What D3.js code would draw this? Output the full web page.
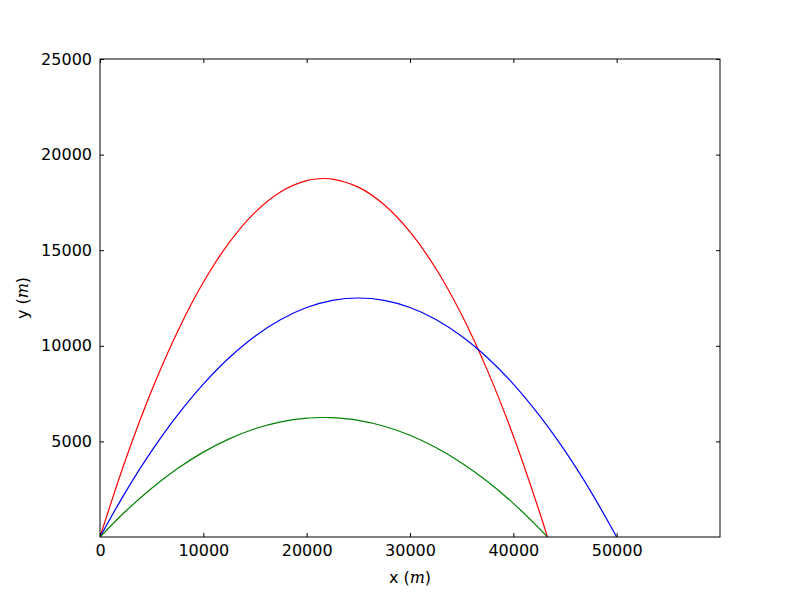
<!DOCTYPE html>
<html><head><meta charset="utf-8">
<script src="https://cdn.jsdelivr.net/npm/d3@7"></script>
<style>body{margin:0;background:#fff}svg{display:block}text{font-family:"DejaVu Sans",sans-serif}</style>
</head><body>
<script>
const xTicks=[0,10000,20000,30000,40000,50000];
const yTicks=[5000,10000,15000,20000,25000];
const redX=[0,2500,5000,7500,10000,12500,15000,17500,20000,21651,22500,25000,27500,30000,32500,35000,37500,40000,42500,43301];
const redY=[0,4080,7660,10740,13320,15401,16981,18061,18641,18750,18721,18301,17381,15962,14042,11622,8702,5282,1362,0];
const blueX=[0,2500,5000,7500,10000,12500,15000,17500,20000,22500,25000,27500,30000,32500,35000,37500,40000,42500,45000,47500,50000];
const blueY=[0,2375,4500,6375,8000,9375,10500,11375,12000,12375,12500,12375,12000,11375,10500,9375,8000,6375,4500,2375,0];
const greenX=[0,2500,5000,7500,10000,12500,15000,17500,20000,21651,22500,25000,27500,30000,32500,35000,37500,40000,42500,43301];
const greenY=[0,1360,2553,3580,4440,5134,5660,6020,6214,6250,6240,6100,5794,5321,4681,3874,2901,1761,454,0];

const W=800,H=596,L=100,R=720,T=59,B=537;
const svg=d3.select("body").append("svg").attr("width",W).attr("height",H);
const x=d3.scaleLinear().domain([0,60000]).range([L,R]);
const y=d3.scaleLinear().domain([0,25000]).range([B,T]);

const series=[[redX,redY,"#ff0000"],[blueX,blueY,"#0000ff"],[greenX,greenY,"#008000"]];
const line=d3.line().x(d=>x(d[0])).y(d=>y(d[1])).curve(d3.curveCatmullRom.alpha(0.5));
svg.append("clipPath").attr("id","c").append("rect").attr("x",L).attr("y",T).attr("width",R-L).attr("height",B-T);
series.forEach(([xs,ys,c])=>{
  svg.append("path").attr("clip-path","url(#c)").datum(xs.map((v,i)=>[v,ys[i]])).attr("d",line)
    .attr("fill","none").attr("stroke",c).attr("stroke-width",1.2);
});

const fs=16;
// axes with inward ticks on all four sides
const ax=(g,axis)=>{g.call(axis);g.select(".domain").remove();g.selectAll("line").attr("stroke","#000");g.selectAll("text").attr("font-size",fs).attr("fill","#000").attr("font-family","DejaVu Sans, sans-serif");};
svg.append("g").attr("transform",`translate(0,${B})`).call(g=>ax(g,d3.axisBottom(x).tickValues(xTicks).tickFormat(d3.format("d")).tickSizeInner(-4).tickSizeOuter(0).tickPadding(8)));
svg.append("g").attr("transform",`translate(0,${T})`).call(g=>ax(g,d3.axisTop(x).tickValues(xTicks).tickFormat("").tickSizeInner(-4).tickSizeOuter(0)));
svg.append("g").attr("transform",`translate(${L},0)`).call(g=>ax(g,d3.axisLeft(y).tickValues(yTicks).tickFormat(d3.format("d")).tickSizeInner(-4).tickSizeOuter(0).tickPadding(8)));
svg.append("g").attr("transform",`translate(${R},0)`).call(g=>ax(g,d3.axisRight(y).tickValues(yTicks).tickFormat("").tickSizeInner(-4).tickSizeOuter(0)));

svg.append("rect").attr("x",L).attr("y",T).attr("width",R-L).attr("height",B-T).attr("fill","none").attr("stroke","#000").attr("stroke-width",1);

const xl=svg.append("text").attr("x",(L+R)/2).attr("y",583).attr("text-anchor","middle").attr("font-size",fs);
xl.append("tspan").text("x (");
xl.append("tspan").attr("font-style","italic").attr("font-family","DejaVu Serif, serif").text("m");
xl.append("tspan").text(")");
const yl=svg.append("text").attr("transform",`translate(28,${(T+B)/2}) rotate(-90)`).attr("text-anchor","middle").attr("font-size",fs);
yl.append("tspan").text("y (");
yl.append("tspan").attr("font-style","italic").attr("font-family","DejaVu Serif, serif").text("m");
yl.append("tspan").text(")");
</script>
</body></html>
